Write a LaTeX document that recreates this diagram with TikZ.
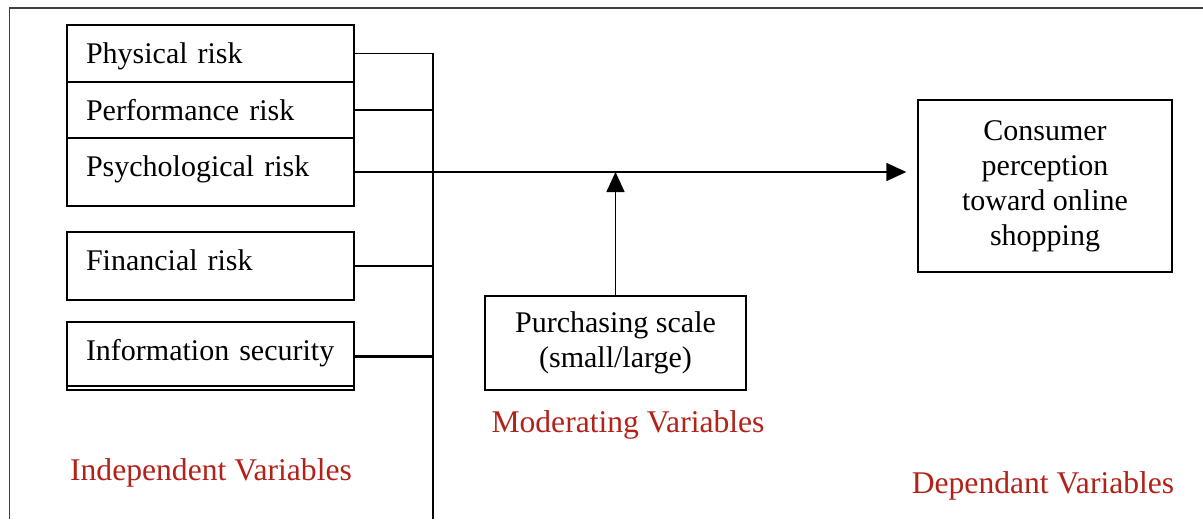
\documentclass[tikz,border=0pt]{standalone}
\usepackage{fontspec}
\setmainfont{Liberation Serif}
\usetikzlibrary{positioning,arrows.meta}
\definecolor{varred}{RGB}{178,34,24}

\begin{document}
\begin{tikzpicture}[
    x=0.5pt, y=-0.5pt,
    riskrow/.style={rectangle, draw=black, line width=0.7pt, outer sep=0pt, minimum width=143.5pt, text width=124.5pt, inner xsep=9.5pt, inner ysep=0pt, text height=14.5pt, text depth=4pt, align=left, font=\fontsize{15}{17.5}\selectfont},
    raised/.style={text depth=10.5pt},
    target/.style={rectangle, draw=black, line width=0.7pt, align=center, inner sep=0pt, font=\fontsize{15}{17.5}\selectfont},
    varlabel/.style={text=varred, inner sep=0pt, font=\fontsize{15.8}{18}\selectfont},
    link/.style={draw=black, line width=0.7pt},
    arrowline/.style={link, -{Triangle[length=10pt, width=9pt]}},
    node distance=0pt
]
    \useasboundingbox (0,0) rectangle (1203,519);
    \draw[line width=0.8pt, black!75] (9.5,519) |- (1203,8);

    % independent variables
    \node[riskrow, minimum height=28.5pt] (phys) at (210.5,53.5) {Physical risk};
    \node[riskrow, minimum height=28pt, below=of phys] (perf) {Performance risk};
    \node[riskrow, raised, minimum height=34pt, below=of perf] (psych) {Psychological risk};
    \node[riskrow, raised, minimum height=34pt, below=13pt of psych] (fin) {Financial risk};
    \node[riskrow, raised, minimum height=34pt, below=11pt of fin] (info) {Information security};
    \draw[link] ([yshift=2pt]info.south west) -- ([yshift=2pt]info.south east);

    % dependent and moderating variables
    \node[target, minimum width=127pt, minimum height=86pt] (consumer) at (1045,186) {Consumer\\perception\\toward online\\shopping};
    \node[target, minimum width=130.5pt, minimum height=47pt] (scale) at (615.5,343) {Purchasing scale\\(small/large)};

    % bus
    \coordinate (busend) at (433,519);
    \draw[link] (phys.east -| busend) -- (busend);
    \foreach \r in {phys,perf,psych,fin}
        \draw[link] (\r.east) -- (\r.east -| busend);
    \draw[link, line width=1.5pt] (info.east) -- (info.east -| busend);

    \draw[arrowline] (psych.east) -- ([xshift=-5.5pt]psych.east -| consumer.west);
    \draw[arrowline] (scale.north) -- (scale.north |- psych.east);

    % labels
    \node[varlabel] (modlabel) at (628,425) {Moderating Variables};
    \node[varlabel] (indlabel) at (211,473) {Independent Variables};
    \node[varlabel] (deplabel) at (1043,486) {Dependant Variables};
\end{tikzpicture}
\end{document}
